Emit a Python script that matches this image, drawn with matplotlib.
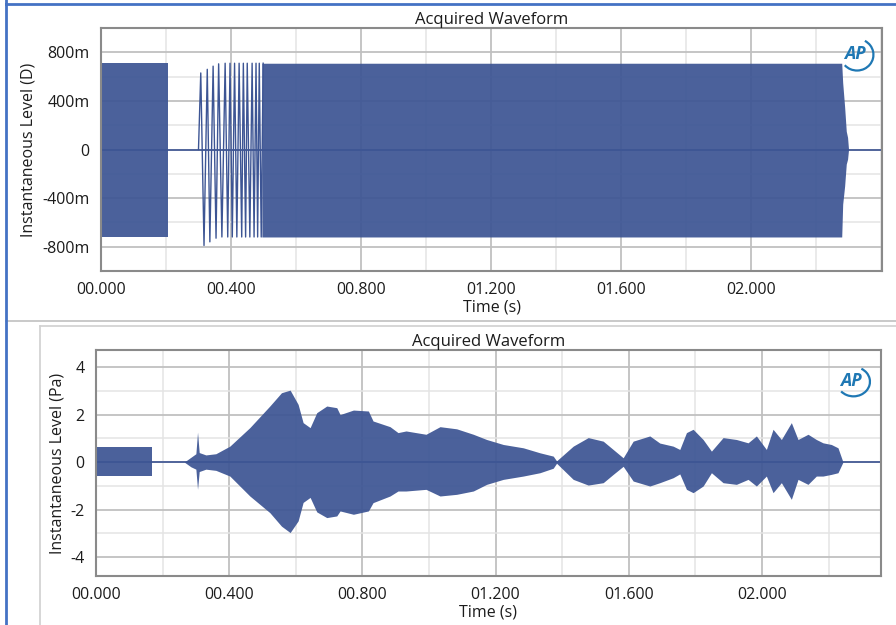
import matplotlib
matplotlib.use("Agg")
import matplotlib.pyplot as plt
from matplotlib.lines import Line2D
from matplotlib.patches import Arc
import numpy as np

plt.rcParams["font.family"] = ["Open Sans", "DejaVu Sans"]

WAVE = "#3d5594"
TXT = "#1c1c1c"

# ---- top panel (generator, D) ----
top_xticks = [0.0, 0.4, 0.8, 1.2, 1.6, 2.0]
top_xlabels = ["00.000", "00.400", "00.800", "01.200", "01.600", "02.000"]
top_yticks = [-0.8, -0.4, 0.0, 0.4, 0.8]
top_ylabels = ["-800m", "-400m", "0", "400m", "800m"]

# first tone burst (envelope)
top_burst_t = [0.0, 0.205]
top_burst_up = [0.71, 0.71]
top_burst_lo = [-0.72, -0.72]

# start of the sweep: individual cycles still visible (alternating peak / trough)
top_cycle_t = [0.300, 0.307, 0.317, 0.327, 0.335, 0.345, 0.354, 0.362, 0.372,
               0.382, 0.390, 0.397, 0.404, 0.411, 0.418, 0.425, 0.433, 0.438,
               0.445, 0.450, 0.458, 0.465, 0.471, 0.477, 0.482, 0.487, 0.493,
               0.499]
top_cycle_v = [0.0, 0.63, -0.79, 0.66, -0.76, 0.686, -0.73, 0.705, -0.72,
               0.71, -0.72, 0.71, -0.72, 0.71, -0.72, 0.71, -0.72, 0.71,
               -0.72, 0.71, -0.72, 0.71, -0.72, 0.71, -0.72, 0.71, -0.72,
               0.71]

# rest of the sweep (envelope)
top_sweep_t = [0.495, 2.279, 2.282, 2.288, 2.293, 2.297, 2.300]
top_sweep_up = [0.71, 0.71, 0.55, 0.35, 0.15, 0.10, 0.0]
top_sweep_lo = [-0.72, -0.72, -0.45, -0.30, -0.12, -0.08, 0.0]

# ---- bottom panel (microphone, Pa) ----
bot_xticks = top_xticks
bot_xlabels = top_xlabels
bot_yticks = [-4, -2, 0, 2, 4]
bot_ylabels = ["-4", "-2", "0", "2", "4"]

bot_burst_t = [0.0, 0.168]
bot_burst_up = [0.63, 0.63]
bot_burst_lo = [-0.59, -0.59]

bot_t = [0.265, 0.285, 0.300, 0.305, 0.310, 0.330, 0.360, 0.402, 0.462, 0.522,
         0.557, 0.583, 0.607, 0.622, 0.643, 0.663, 0.693, 0.723, 0.733, 0.773,
         0.818, 0.832, 0.883, 0.907, 0.931, 0.991, 1.033, 1.083, 1.133, 1.173,
         1.223, 1.283, 1.333, 1.373, 1.383, 1.433, 1.478, 1.523, 1.553, 1.583,
         1.613, 1.663, 1.693, 1.733, 1.753, 1.773, 1.793, 1.823, 1.848, 1.883,
         1.923, 1.958, 1.983, 2.013, 2.033, 2.058, 2.088, 2.108, 2.138, 2.163,
         2.183, 2.208, 2.228, 2.243]
bot_up = [0, 0.2, 0.35, 1.26, 0.4, 0.3, 0.35, 0.67, 1.45, 2.36,
          2.92, 3.03, 2.43, 1.66, 1.45, 2.08, 2.36, 2.29, 2.0, 2.19,
          2.15, 1.73, 1.49, 1.24, 1.31, 1.17, 1.49, 1.4, 1.17, 0.95,
          0.74, 0.6, 0.39, 0.25, 0.05, 0.67, 1.03, 0.88, 0.53, 0.18,
          0.88, 1.1, 0.8, 0.67, 0.53, 1.24, 1.38, 0.95, 0.46, 1.03,
          0.95, 0.81, 1.1, 0.53, 1.38, 0.95, 1.66, 0.95, 1.17, 0.95,
          0.81, 0.74, 0.6, 0]
bot_lo = [0, -0.2, -0.3, -1.15, -0.4, -0.3, -0.35, -0.59, -1.43, -2.13,
          -2.7, -2.97, -2.48, -1.7, -1.49, -2.1, -2.34, -2.27, -2.06, -2.2,
          -2.06, -1.71, -1.43, -1.22, -1.22, -1.15, -1.43, -1.36, -1.22, -0.94,
          -0.73, -0.59, -0.45, -0.26, -0.05, -0.73, -0.97, -0.87, -0.52, -0.18,
          -0.8, -1.01, -0.87, -0.66, -0.5, -1.15, -1.29, -1.01, -0.45, -0.87,
          -0.94, -0.73, -1.01, -0.59, -1.29, -0.87, -1.57, -0.73, -0.94, -0.59,
          -0.59, -0.52, -0.45, 0]


def style_axes(ax, xticks, xlabels, yticks, ylabels, ylabel, xlim, ylim,
               xminor, yminor):
    ax.set_xlim(*xlim)
    ax.set_ylim(*ylim)
    ax.set_xticks(xticks)
    ax.set_xticklabels(xlabels)
    ax.set_yticks(yticks)
    ax.set_yticklabels(ylabels)
    ax.set_xticks(xminor, minor=True)
    ax.set_yticks(yminor, minor=True)
    ax.grid(which="major", color="#c0c0c0", lw=1.3)
    ax.grid(which="minor", color="#e4e4e4", lw=1.1)
    ax.set_axisbelow(True)
    ax.tick_params(which="both", length=0, labelsize=11.5, colors=TXT, pad=8)
    for s in ax.spines.values():
        s.set_color("#8a8a8a")
        s.set_linewidth(1.5)
    ax.set_title("Acquired Waveform", fontsize=12, color=TXT, pad=3)
    ax.set_xlabel("Time (s)", fontsize=11.5, color=TXT, labelpad=1)
    ax.set_ylabel(ylabel, fontsize=11.5, color=TXT, labelpad=4)
    ax.axhline(0, color=WAVE, lw=1.2, zorder=2)


def ap_logo(ax, x, y):
    ax.text(x, y, "AP", transform=ax.transAxes, fontsize=13, fontweight="bold",
            fontstyle="italic", color="#1f78b4", ha="center", va="center",
            zorder=5)
    ax.add_patch(Arc((x + 0.003, y - 0.005), 0.042, 0.13, theta1=-110,
                     theta2=80, transform=ax.transAxes, color="#1f78b4",
                     lw=1.6, zorder=5))


fig = plt.figure(figsize=(8.96, 6.25), dpi=100)

ax1 = fig.add_axes([0.1127, 0.5664, 0.8717, 0.3888])
style_axes(ax1, top_xticks, top_xlabels, top_yticks, top_ylabels,
           "Instantaneous Level (D)", (0, 2.403), (-1.0, 1.0),
           np.arange(0, 2.41, 0.2), np.arange(-1.0, 1.01, 0.2))
ax1.fill_between(top_burst_t, top_burst_lo, top_burst_up, color=WAVE, lw=0,
                 alpha=0.93, zorder=1)
ax1.plot(top_cycle_t, top_cycle_v, color=WAVE, lw=1.0, zorder=3)
ax1.fill_between(top_sweep_t, top_sweep_lo, top_sweep_up, color=WAVE, lw=0,
                 alpha=0.93, zorder=1)
ap_logo(ax1, 0.965, 0.895)

ax2 = fig.add_axes([0.1071, 0.0784, 0.8761, 0.3616])
style_axes(ax2, bot_xticks, bot_xlabels, bot_yticks, bot_ylabels,
           "Instantaneous Level (Pa)", (0, 2.357), (-4.8, 4.72),
           np.arange(0, 2.36, 0.2), np.arange(-4, 4.1, 1))
ax2.fill_between(bot_burst_t, bot_burst_lo, bot_burst_up, color=WAVE, lw=0,
                 alpha=0.93, zorder=1)
ax2.fill_between(bot_t, bot_lo, bot_up, color=WAVE, lw=0, alpha=0.93,
                 zorder=1)
ap_logo(ax2, 0.962, 0.865)

# window frames of the screenshot
H = 625.0
W = 896.0
frame = [
    ((6, 6), (0, 4), "#4472c4", 2.0),
    ((6, W), (4, 4), "#4472c4", 2.0),
    ((6, W), (321, 321), "#c0c0c0", 1.2),
    ((40, 40), (326, H), "#d0d0d0", 1.2),
    ((40, W), (326, 326), "#d0d0d0", 1.2),
]
for xs, ys, c, lw in frame:
    fig.add_artist(Line2D([xs[0] / W, xs[1] / W],
                          [1 - ys[0] / H, 1 - ys[1] / H],
                          color=c, lw=lw, transform=fig.transFigure))
fig.add_artist(Line2D([6 / W, 6 / W], [0, 1 - 4 / H], color="#4472c4", lw=2.0,
                      transform=fig.transFigure))

fig.savefig("out.png", dpi=100)
